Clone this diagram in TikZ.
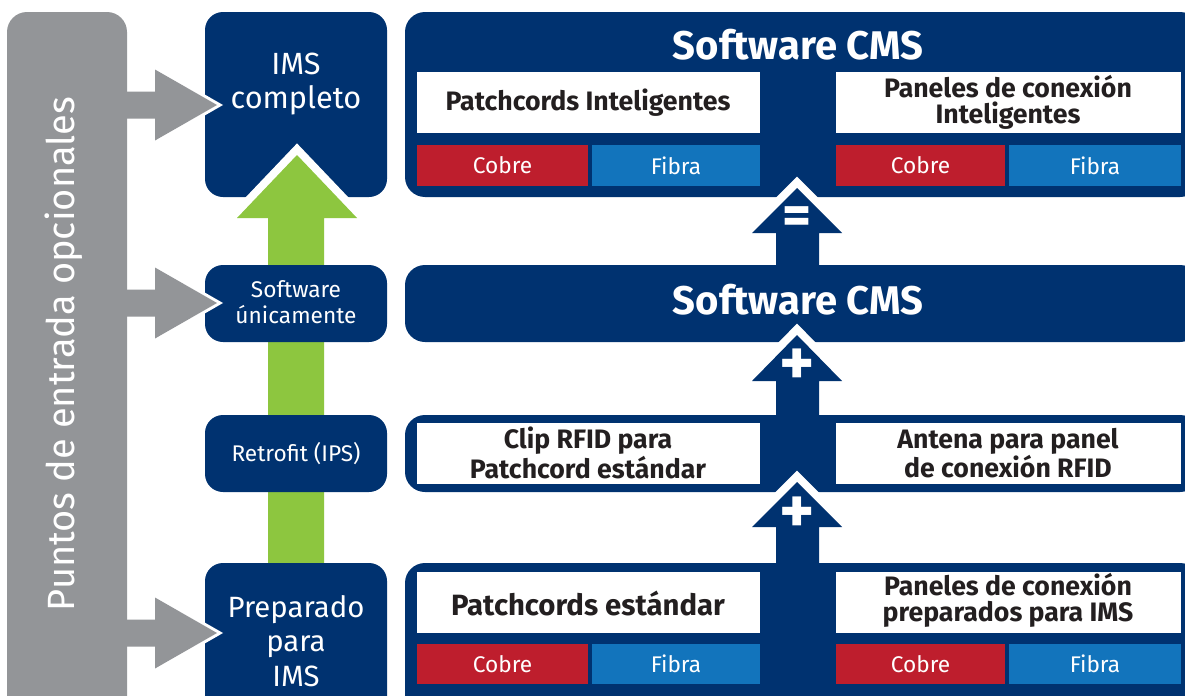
\documentclass[tikz,border=0pt]{standalone}
\usepackage{fontspec}
\setmainfont{Fira Sans}
\newfontfamily\condfont{Fira Sans}
\usetikzlibrary{positioning}
\definecolor{navy}{RGB}{0,50,112}
\definecolor{cobre}{RGB}{190,30,45}
\definecolor{fibra}{RGB}{18,116,188}
\definecolor{verde}{RGB}{141,198,63}
\definecolor{gris}{RGB}{147,149,152}
\definecolor{tinta}{RGB}{35,31,32}
\begin{document}
\begin{tikzpicture}[x=.75pt, y=-.75pt,
    panel/.style={fill=navy, rounded corners=15pt},
    stage/.style={fill=navy, rounded corners=13.5pt},
    outlined/.style={preaction={draw=white, line width=#1, line join=miter}},
    stagetext/.style={text=white, align=center},
    paneltitle/.style={text=white, font=\condfont\bfseries\fontsize{30}{30}\selectfont},
    boxtext/.style={text=tinta, align=center, font=\condfont\bfseries\fontsize{20}{19.5}\selectfont},
    tagtext/.style={text=white, font=\condfont\fontsize{17}{17}\selectfont},
    symbol/.style={text=white, inner sep=0pt, font=\bfseries\fontsize{#1}{#1}\selectfont}]
  \useasboundingbox (0,0) rectangle (1185,696);
  \def\L{417} \def\M{760} \def\N{836} \def\R{1181}
  % IMS completo
  \fill[stage] (205,12) rectangle (387,197);
  \node[stagetext, font=\fontsize{23}{26}\selectfont] (ims) at (296,84) {IMS\\completo};
  % Software CMS con patchcords y paneles inteligentes
  \fill[panel] (405,12) rectangle (1200,197);
  \node[paneltitle] (cmsA) at (798,45) {Software CMS};
  \fill[white] (\L,72) rectangle (\M,133);
  \fill[white] (\N,72) rectangle (\R,133);
  \node[boxtext] (patchInt) at (588,103) {Patchcords Inteligentes};
  \node[boxtext] (panelInt) at (1008,102) {Paneles de conexión\\Inteligentes};
  \fill[cobre] (\L,145) rectangle (588,186);
  \fill[fibra] (592,145) rectangle (\M,186);
  \fill[cobre] (\N,145) rectangle (1005,186);
  \fill[fibra] (1009,145) rectangle (\R,186);
  \node[tagtext] (cobreA) at (502.5,165.5) {Cobre};
  \node[tagtext] (fibraA) at (676,165.5) {Fibra};
  \node[tagtext] (cobreB) at (920.5,165.5) {Cobre};
  \node[tagtext] (fibraB) at (1095,165.5) {Fibra};
  % green arrow
  \fill[verde, outlined=12pt] (268,575) -- (268,218) -- (237,218) -- (297,155)
    -- (357,218) -- (324,218) -- (324,575) -- cycle;
  % other stages
  \fill[stage] (205,265) rectangle (387,342);
  \node[stagetext, font=\fontsize{17}{20}\selectfont] (soft) at (296,302) {Software\\únicamente};
  \fill[stage] (205,415) rectangle (387,492);
  \node[stagetext, font=\fontsize{17}{20}\selectfont] (retro) at (296,454) {Retrofit (IPS)};
  \fill[stage] (205,563) rectangle (387,720);
  \node[stagetext, font=\fontsize{22}{26}\selectfont] (prep) at (296,641) {Preparado\\para\\IMS};
  % entry arrows
  \foreach \c in {105, 303, 633}
    \fill[gris, outlined=4.5pt] (110,\c-13.5) -- (155,\c-13.5) -- (155,\c-35.5) -- (217,\c)
      -- (155,\c+35.5) -- (155,\c+13.5) -- (110,\c+13.5) -- cycle;
  \fill[gris, rounded corners=15pt] (7,12) rectangle (127,730);
  \node[text=white, rotate=90, font=\fontsize{28.5}{28.5}\selectfont] (puntos) at (64,354) {Puntos de entrada opcionales};
  % = arrow
  \fill[navy, outlined=12pt] (776,275) -- (776,233) -- (752,233) -- (797,188)
    -- (842,233) -- (819,233) -- (819,275) -- cycle;
  \node[symbol=42] (igual) at (797.5,221) {=};
  % Software CMS
  \fill[panel] (405,265) rectangle (1200,342);
  \node[paneltitle] (cmsB) at (798,300) {Software CMS};
  % + arrow
  \fill[navy, outlined=12pt] (776,425) -- (776,381) -- (752,381) -- (797,335)
    -- (842,381) -- (819,381) -- (819,425) -- cycle;
  \node[symbol=50] (masA) at (797.5,367) {+};
  % RFID retrofit
  \fill[panel] (405,415) rectangle (1200,492);
  \fill[white] (\L,423) rectangle (\M,484);
  \fill[white] (\N,423) rectangle (\R,484);
  \node[boxtext] (clip) at (588,453) {Clip RFID para\\Patchcord estándar};
  \node[boxtext] (antena) at (1008,453) {Antena para panel\\de conexión RFID};
  % + arrow
  \fill[navy, outlined=12pt] (776,570) -- (776,527) -- (752,527) -- (797,482)
    -- (842,527) -- (819,527) -- (819,570) -- cycle;
  \node[symbol=50] (masB) at (797.5,515) {+};
  % preparado para IMS
  \fill[panel] (405,563) rectangle (1200,730);
  \fill[white] (\L,572) rectangle (\M,633);
  \fill[white] (\N,572) rectangle (\R,633);
  \node[boxtext, font=\condfont\bfseries\fontsize{22}{22}\selectfont] (patchStd) at (588,603) {Patchcords estándar};
  \node[boxtext] (panelPrep) at (1008,600) {Paneles de conexión\\preparados para IMS};
  \fill[cobre] (\L,644) rectangle (588,684);
  \fill[fibra] (592,644) rectangle (\M,684);
  \fill[cobre] (\N,644) rectangle (1005,684);
  \fill[fibra] (1009,644) rectangle (\R,684);
  \node[tagtext] (cobreC) at (502.5,664) {Cobre};
  \node[tagtext] (fibraC) at (676,664) {Fibra};
  \node[tagtext] (cobreD) at (920.5,664) {Cobre};
  \node[tagtext] (fibraD) at (1095,664) {Fibra};
\end{tikzpicture}
\end{document}
